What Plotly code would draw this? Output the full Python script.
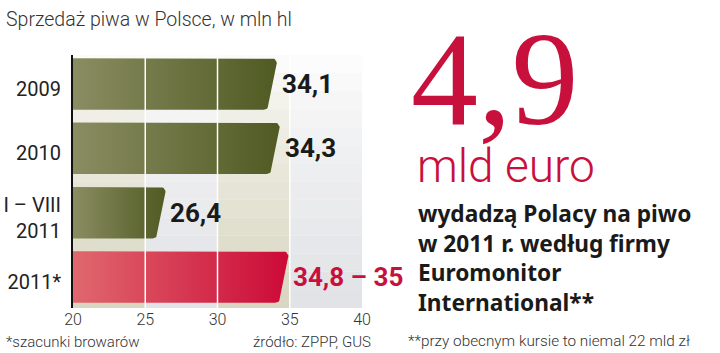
import numpy as np
import plotly.graph_objects as go

# ---- data ----
categories = ["2009", "2010", "I – VIII<br>2011", "2011*"]
values = [34.1, 34.3, 26.4, 34.9]
value_labels = ["34,1", "34,3", "26,4", "34,8 – 35"]
estimate_flags = [False, False, False, True]
x_ticks = [20, 25, 30, 35, 40]
x_ticktext = ["20", "25", "30", "35", "40"]

W, H = 720, 353
ML, MR, MT, MB = 73, 358, 55, 45
PW, PH = W - ML - MR, H - MT - MB
XMIN, XMAX = 20, 40
YR = [3.48, -0.45]

GREEN = [[0, "#8a8d62"], [1, "#505a22"]]
RED = [[0, "#e0686e"], [1, "#cc0a37"]]
RED_TXT = "#c8103c"

xu = (XMAX - XMIN) / PW            # x-units per pixel
yu = (YR[0] - YR[1]) / PH          # y-units per pixel


def bar_poly(v, c, half=0.4):
    top, bot = c - half, c + half
    s = 8 * xu
    rx, ry = 5 * xu, 5 * yu
    xs, ys = [XMIN], [top]
    cx, cy = v - rx, top + ry
    for t in np.linspace(np.pi / 2, 0, 8):
        xs.append(cx + rx * np.cos(t)); ys.append(cy - ry * np.sin(t))
    cx2, cy2 = v - s - rx, bot - ry
    for t in np.linspace(0, -np.pi / 2, 8):
        xs.append(cx2 + rx * np.cos(t)); ys.append(cy2 - ry * np.sin(t))
    xs += [XMIN, XMIN]; ys += [bot, top]
    return xs, ys


fig = go.Figure()
ypos = list(range(len(categories)))
for i, (v, est) in enumerate(zip(values, estimate_flags)):
    xs, ys = bar_poly(v, ypos[i])
    fig.add_trace(go.Scatter(
        x=xs, y=ys, mode="lines", fill="toself",
        line=dict(width=0, color="rgba(0,0,0,0)"),
        fillgradient=dict(type="horizontal", colorscale=RED if est else GREEN),
        hoverinfo="skip", showlegend=False))

shapes = []
band_cols = [(216, 214, 192), (225, 226, 229), (216, 214, 192), (225, 226, 229)]
nsl = 14
for b in range(4):
    r, g, bb = band_cols[b]
    for k in range(nsl):
        y0 = k / nsl
        op = (1 - (k + 0.5) / nsl) ** 0.7
        shapes.append(dict(type="rect", xref="x", yref="paper",
                           x0=XMIN + 5 * b, x1=XMIN + 5 * (b + 1),
                           y0=y0, y1=(k + 1) / nsl, line=dict(width=0),
                           fillcolor=f"rgba({r},{g},{bb},{op:.3f})", layer="below"))
for gx in x_ticks[1:4]:
    shapes.append(dict(type="line", xref="x", yref="paper", x0=gx, x1=gx, y0=0, y1=1,
                       line=dict(color="white", width=1.5), layer="above"))


def PX(px):
    return (px - ML) / PW


def PY(py):
    return (H - MB - py) / PH


ann = []
for v, p, lab, est in zip(values, ypos, value_labels, estimate_flags):
    ann.append(dict(text=lab, x=v, y=p, xref="x", yref="y", xanchor="left",
                    yanchor="middle", xshift=3, showarrow=False,
                    font=dict(family="Roboto", size=26, weight="bold",
                              color=RED_TXT if est else "#1a1a1a")))

pann = []
pann.append(dict(text="Sprzedaż piwa w Polsce, w mln hl", x=PX(4), y=PY(20),
                 xanchor="left", yanchor="middle",
                 font=dict(family="Roboto", size=19.5, weight=300, color="#333")))
pann.append(dict(text="4,9", x=PX(409), y=PY(79), xanchor="left", yanchor="middle",
                 font=dict(family="Liberation Serif", size=134, color=RED_TXT)))
pann.append(dict(text="mld euro", x=PX(415), y=PY(166), xanchor="left", yanchor="middle",
                 font=dict(family="Roboto", size=46, weight=300, color=RED_TXT)))
pann.append(dict(text="wydadzą Polacy na piwo<br>w 2011 r. według firmy<br>Euromonitor<br>International**",
                 x=PX(416), y=PY(258), xanchor="left", yanchor="middle", align="left",
                 font=dict(family="Noto Sans", size=22.7, weight="bold", color="#1a1a1a")))
pann.append(dict(text="*szacunki browarów", x=PX(4), y=PY(342), xanchor="left", yanchor="middle",
                 font=dict(family="Roboto", size=15, weight=300, color="#333")))
pann.append(dict(text="źródło: ZPPP, GUS", x=PX(251), y=PY(342), xanchor="left", yanchor="middle",
                 font=dict(family="Roboto", size=15, weight=300, color="#333")))
pann.append(dict(text="**przy obecnym kursie to niemal 22 mld zł", x=PX(406), y=PY(341),
                 xanchor="left", yanchor="middle",
                 font=dict(family="Roboto", size=15.3, weight=300, color="#333")))
for a in pann:
    a.update(xref="paper", yref="paper", showarrow=False)

fig.update_layout(
    width=W, height=H, margin=dict(l=ML, r=MR, t=MT, b=MB, autoexpand=False),
    paper_bgcolor="white", plot_bgcolor="white",
    shapes=shapes, annotations=ann + pann,
    xaxis=dict(range=[XMIN, XMAX], tickvals=x_ticks, ticktext=x_ticktext,
               showgrid=False, zeroline=False, showline=False, ticks="",
               automargin=False,
               tickfont=dict(family="Roboto", size=16, weight=300, color="#333")),
    yaxis=dict(range=YR, tickvals=ypos, ticktext=categories, showgrid=False,
               zeroline=False, showline=True, linecolor="#111", linewidth=2,
               ticks="", ticklabelstandoff=6, ticklabelshift=-5, automargin=False,
               tickfont=dict(family="Roboto", size=20, color="#222")),
)

fig.write_html("out.html")
